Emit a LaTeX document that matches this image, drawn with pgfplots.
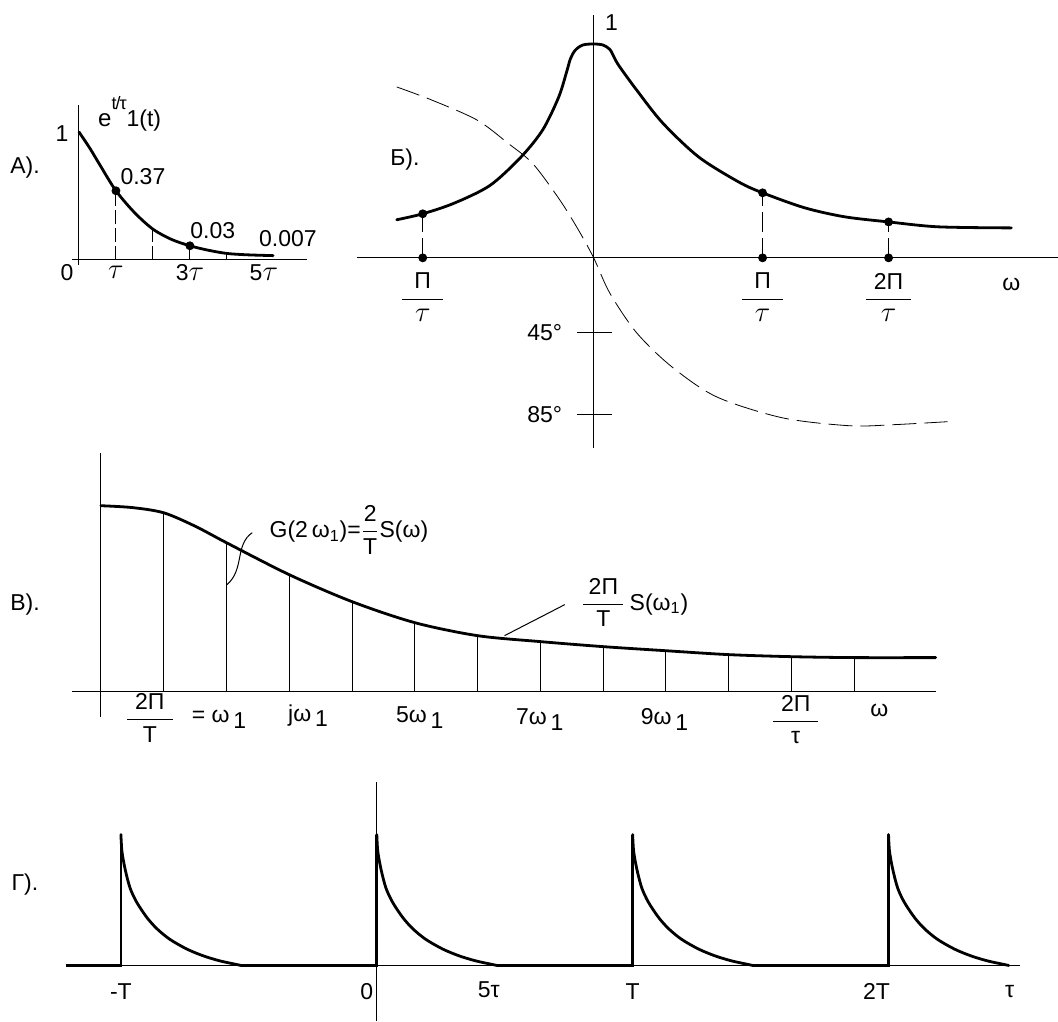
\documentclass[border=0pt]{standalone}
\usepackage{fontspec}
\setmainfont{Liberation Sans}
\usepackage{amsmath}
\usepackage{pgfplots}
\pgfplotsset{compat=1.18}
\pgfplotsset{
  panel/.style={axis lines=none, clip=false, anchor=origin},
}
\tikzset{
  thickc/.style={black, line width=1.4pt, line join=round, line cap=round},
  thinc/.style={black, line width=0.5pt},
}
\newcommand\sub[1]{\,\raisebox{-0.45ex}{#1}}
\newcommand\tauL{{\fontsize{14}{14}\selectfont$\tau$}}
\begin{document}
\fontsize{11.5}{13}\selectfont
\begin{tikzpicture}
\path (0,0) rectangle (529pt,511pt);

% ---------- A) ----------
\begin{axis}[panel, at={(39.5pt,381pt)}, x=18.5pt, y=64pt,
  xmin=-0.19, xmax=6.2, ymin=-0.05, ymax=1.22]
  \draw[thinc] (axis cs:-0.19,0) -- (axis cs:6.16,0);
  \draw[thinc] (axis cs:0,-0.04) -- (axis cs:0,1.21);
  \addplot[thinc, ycomb, dash pattern=on 7pt off 2pt] coordinates {(1,0.54) (2,0.24) (3,0.11) (4,0.05)};
  \addplot[thickc, smooth] coordinates {
    (0,1.0) (0.3,0.87) (0.57,0.74) (1,0.54) (1.5,0.37) (2,0.24) (2.5,0.16)
    (3,0.11) (3.5,0.075) (4,0.05) (4.5,0.04) (5,0.035) (5.25,0.033)};
  \addplot[black, only marks, mark=*, mark size=2pt] coordinates {(1,0.54) (3,0.11)};
  \node at (axis cs:-0.46,0.99) {1};
  \node at (axis cs:-0.32,-0.10) {0};
  \node at (axis cs:1,-0.10) {\tauL};
  \node at (axis cs:3,-0.10) {3\tauL};
  \node at (axis cs:5,-0.10) {5\tauL};
  \node at (axis cs:1.73,0.65) {0.37};
  \node at (axis cs:3.62,0.23) {0.03};
  \node at (axis cs:5.65,0.17) {0.007};
  \node[anchor=base west, inner sep=0] at (axis cs:0.51,1.04) {{\large e}\raisebox{1.4ex}{\small t\kern-0.5pt/\kern-0.5ptτ}1(t)};
  \node at (axis cs:-1.46,0.72) {А).};
\end{axis}

% ---------- Б) ----------
\begin{axis}[panel, at={(297pt,382pt)}, x=84.5pt, y=107pt,
  xmin=-1.41, xmax=2.75, ymin=-0.9, ymax=1.14]
  \draw[thinc] (axis cs:-1.402,0) -- (axis cs:2.746,0);
  \draw[thinc] (axis cs:0,-0.888) -- (axis cs:0,1.136);
  \draw[thinc] (axis cs:-0.1,-0.35) -- (axis cs:0.107,-0.35);
  \draw[thinc] (axis cs:-0.1,-0.734) -- (axis cs:0.107,-0.734);
  \addplot[thinc, ycomb, dash pattern=on 10pt off 3pt] coordinates {(-1.012,0.206) (1,0.304) (1.746,0.168)};
  % phase
  \addplot[black, line width=0.4pt, smooth, dash pattern=on 12pt off 4pt] coordinates {
    (-1.166,0.799) (-0.959,0.738) (-0.692,0.645) (-0.509,0.537) (-0.36,0.44)
    (-0.20,0.27) (-0.09,0.13) (0,0) (0.095,-0.164) (0.254,-0.350) (0.462,-0.509)
    (0.728,-0.650) (1.118,-0.748) (1.515,-0.785) (1.775,-0.780) (2.095,-0.766)};
  % magnitude
  \addplot[thickc, smooth] coordinates {
    (-1.166,0.178) (-1.012,0.206) (-0.828,0.255) (-0.615,0.338) (-0.432,0.470)
    (-0.302,0.598) (-0.207,0.752) (-0.160,0.870) (-0.138,0.930) (-0.110,0.970)
    (-0.065,0.995) (0,1.0) (0.055,0.995) (0.095,0.975) (0.120,0.940) (0.148,0.900)
    (0.254,0.785) (0.408,0.631)
    (0.621,0.472) (0.858,0.355) (1,0.304) (1.249,0.234) (1.485,0.192)
    (1.746,0.168) (2.041,0.145) (2.473,0.140)};
  \addplot[black, only marks, mark=*, mark size=2pt] coordinates {
    (-1.012,0.206) (1,0.304) (1.746,0.168) (-1.012,0) (1,0) (1.746,0)};
  \node at (axis cs:-1.012,-0.185) {$\dfrac{\mkern9mu\text{Π}\mkern9mu}{\text{\tauL}}$};
  \node at (axis cs:1,-0.185) {$\dfrac{\mkern9mu\text{Π}\mkern9mu}{\text{\tauL}}$};
  \node at (axis cs:1.746,-0.185) {$\dfrac{\mkern6mu\text{2Π}\mkern6mu}{\text{\tauL}}$};
  \node at (axis cs:2.473,-0.126) {ω};
  \node[anchor=west] at (axis cs:0.02,1.10) {1};
  \node at (axis cs:-0.29,-0.35) {45°};
  \node at (axis cs:-0.29,-0.734) {85°};
  \node at (axis cs:-1.118,0.458) {Б).};
\end{axis}

% ---------- В) ----------
\begin{axis}[panel, at={(50.5pt,165pt)}, x=31.4pt, y=93pt,
  xmin=-0.5, xmax=13.4, ymin=-0.15, ymax=1.3]
  \draw[thinc] (axis cs:-0.46,0) -- (axis cs:13.31,0);
  \draw[thinc] (axis cs:0,-0.134) -- (axis cs:0,1.285);
  \addplot[thinc, ycomb] coordinates {
    (1,0.962) (2,0.801) (3,0.629) (4,0.484) (5,0.371) (6,0.301)
    (7,0.269) (8,0.242) (9,0.220) (10,0.199) (11,0.188) (12,0.183)};
  \addplot[thickc, smooth] coordinates {
    (0,1.0) (0.5,0.99) (1,0.962) (1.5,0.89) (2,0.801) (3,0.629) (4,0.484)
    (5,0.371) (6,0.301) (7,0.269) (8,0.242) (9,0.220) (10,0.199) (11,0.188)
    (12,0.183) (13.3,0.183)};
  \draw[thinc] (axis cs:2.006,0.575) .. controls (axis cs:2.29,0.656) and (axis cs:2.13,0.79) .. (axis cs:2.41,0.855);
  \draw[thinc] (axis cs:6.43,0.301) -- (axis cs:7.39,0.468);
  \node[anchor=west] at (axis cs:2.56,0.87) {G(2\,ω\textsubscript{1})=$\dfrac{\text{2}}{\text{T}}$S(ω)};
  \node[anchor=west] at (axis cs:7.52,0.48) {$\dfrac{\mkern4mu\text{2Π}\mkern4mu}{\text{T}}$\,S(ω\textsubscript{1})};
  \node at (axis cs:0.78,-0.14) {$\dfrac{\mkern6mu\text{2Π}\mkern6mu}{\text{T}}$};
  \node[anchor=west] at (axis cs:1.32,-0.15) {= ω\sub{1}};
  \node at (axis cs:3.30,-0.13) {jω\sub{1}};
  \node at (axis cs:5.08,-0.14) {5ω\sub{1}};
  \node at (axis cs:6.99,-0.15) {7ω\sub{1}};
  \node at (axis cs:8.98,-0.15) {9ω\sub{1}};
  \node at (axis cs:11.07,-0.15) {$\dfrac{\mkern6mu\text{2Π}\mkern6mu}{\text{τ}}$};
  \node at (axis cs:12.4,-0.10) {ω};
  \node at (axis cs:-1.21,0.468) {В).};
\end{axis}

% ---------- Г) ----------
\begin{axis}[panel, at={(188.5pt,28pt)}, x=128pt, y=65.5pt,
  xmin=-1.25, xmax=2.6, ymin=-0.45, ymax=1.45]
  \draw[thinc] (axis cs:-1.215,0) -- (axis cs:2.512,0);
  \draw[thinc] (axis cs:0,-0.427) -- (axis cs:0,1.405);
  % zero level and the jumps
  \addplot[thickc, line cap=butt, line join=miter] coordinates {(-1.215,0) (-1,0) (-1,1)};
  \addplot[thickc, line cap=butt, line join=miter] coordinates {(-0.53,0) (0,0) (0,1)};
  \addplot[thickc, line cap=butt, line join=miter] coordinates {(0.47,0) (1,0) (1,1)};
  \addplot[thickc, line cap=butt, line join=miter] coordinates {(1.47,0) (2,0) (2,1)};
  % decays after each jump
  \addplot[thickc, smooth, tension=0.5] coordinates {
    (-1,1) (-0.996,0.87) (-0.983,0.73) (-0.964,0.59) (-0.9375,0.48) (-0.898,0.365)
    (-0.859,0.28) (-0.809,0.20) (-0.742,0.125) (-0.676,0.072) (-0.613,0.035)
    (-0.559,0.012) (-0.53,0)};
  \addplot[thickc, smooth, tension=0.5] coordinates {
    (0,1) (0.004,0.87) (0.017,0.73) (0.036,0.59) (0.0625,0.48) (0.102,0.365)
    (0.141,0.28) (0.191,0.20) (0.258,0.125) (0.324,0.072) (0.387,0.035)
    (0.441,0.012) (0.47,0)};
  \addplot[thickc, smooth, tension=0.5] coordinates {
    (1,1) (1.004,0.87) (1.017,0.73) (1.036,0.59) (1.0625,0.48) (1.102,0.365)
    (1.141,0.28) (1.191,0.20) (1.258,0.125) (1.324,0.072) (1.387,0.035)
    (1.441,0.012) (1.47,0)};
  \addplot[thickc, smooth, tension=0.5] coordinates {
    (2,1) (2.004,0.87) (2.017,0.73) (2.036,0.59) (2.0625,0.48) (2.102,0.365)
    (2.141,0.28) (2.191,0.20) (2.258,0.125) (2.324,0.072) (2.387,0.035)
    (2.441,0.012) (2.47,0)};
  \node at (axis cs:-1,-0.2) {-T};
  \node at (axis cs:-0.039,-0.2) {0};
  \node at (axis cs:0.4375,-0.185) {5τ};
  \node at (axis cs:1,-0.2) {T};
  \node at (axis cs:1.953,-0.2) {2T};
  \node at (axis cs:2.473,-0.2) {τ};
  \node at (axis cs:-1.375,0.618) {Г).};
\end{axis}
\end{tikzpicture}
\end{document}
